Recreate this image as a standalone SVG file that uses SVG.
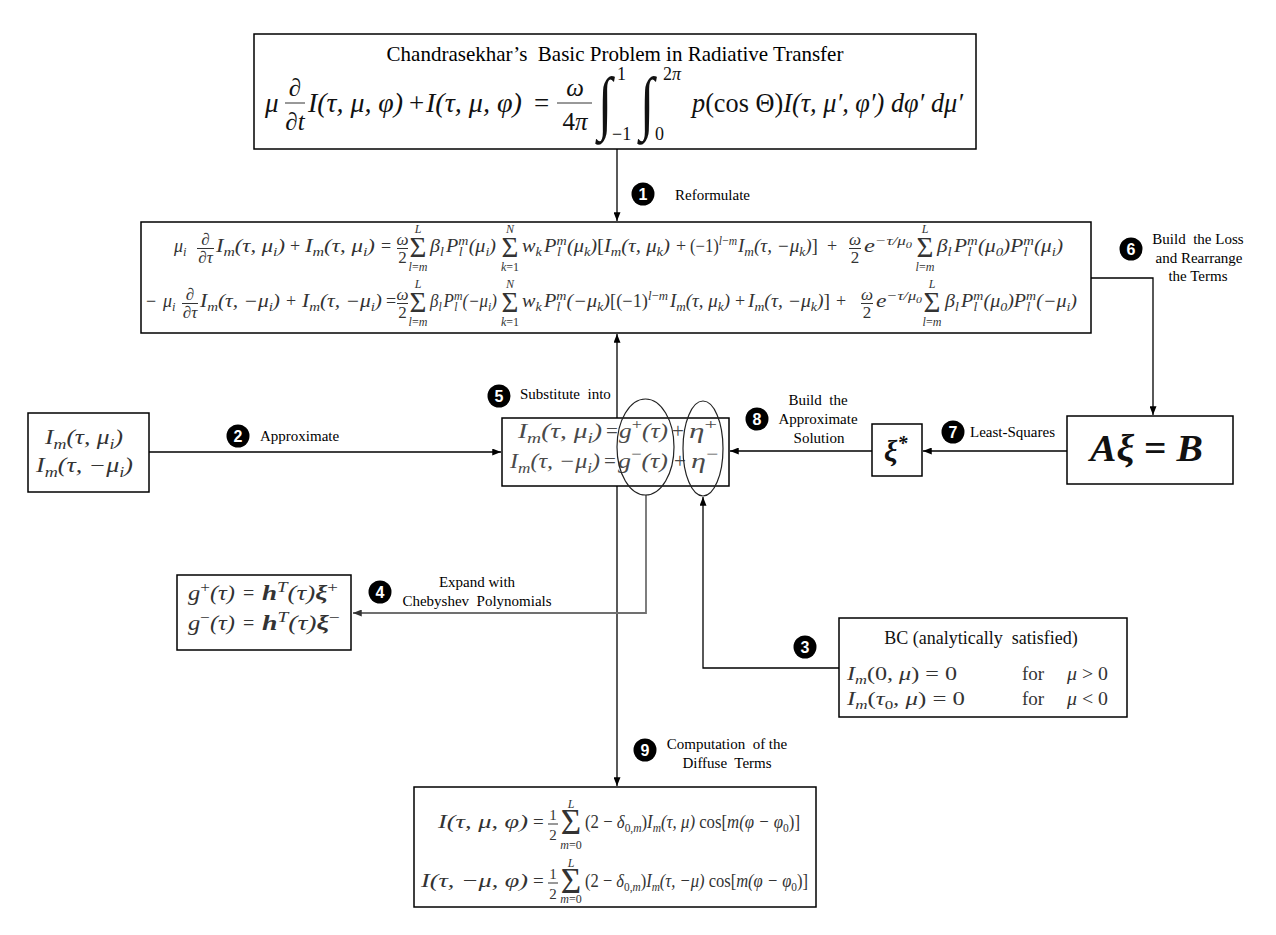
<svg xmlns="http://www.w3.org/2000/svg" width="1276" height="935" viewBox="0 0 1276 935">
<style>
.bx{fill:#fff;stroke:#000;stroke-width:1.5}
.m{font-family:"Liberation Serif","DejaVu Serif",serif;font-style:italic}
.u{font-style:normal}
.b{font-weight:bold}
.k1{fill:#111}
.k2{fill:#333}
.k3{fill:#4a4a4a}
.lb{font-family:"Liberation Serif","DejaVu Serif",serif;font-size:15px;fill:#000}
.ln{fill:none;stroke:#000;stroke-width:1.3}
.gl{fill:none;stroke:#707070;stroke-width:1.8}
.fr{stroke:#333;stroke-width:1}
.el{fill:none;stroke:#222;stroke-width:1.2}
.nc{fill:#000}
.nt{font-family:"Liberation Sans","DejaVu Sans",sans-serif;font-weight:bold;font-size:16px;fill:#fff;text-anchor:middle}
.c{text-anchor:middle}
</style>
<defs>
<marker id="ah" viewBox="0 0 10 8" refX="10" refY="4" markerWidth="9" markerHeight="7" markerUnits="userSpaceOnUse" orient="auto"><path d="M0,0L10,4L0,8z" fill="#000"/></marker>
<marker id="ahg" viewBox="0 0 10 8" refX="10" refY="4" markerWidth="9" markerHeight="7" markerUnits="userSpaceOnUse" orient="auto"><path d="M0,0L10,4L0,8z" fill="#333"/></marker>
</defs>
<rect width="1276" height="935" fill="#fff"/>

<g id="connectors">
<path class="ln" d="M617,149V221" marker-end="url(#ah)"/>
<path class="ln" d="M617,418V334" marker-end="url(#ah)"/>
<path class="ln" d="M617,486V786" marker-end="url(#ah)"/>
<path class="ln" d="M149,452H501" marker-end="url(#ah)"/>
<path class="ln" d="M872,451H730" marker-end="url(#ah)"/>
<path class="ln" d="M1067,451H923" marker-end="url(#ah)"/>
<path class="ln" d="M1091,278H1153V415" marker-end="url(#ah)"/>
<path class="gl" d="M646,495V613H353" marker-end="url(#ahg)"/>
<path class="ln" d="M839,668H703V497" marker-end="url(#ah)"/>
</g>

<g id="n-chandrasekhar">
<rect class="bx" x="254" y="34" width="722" height="115"/>
<text x="615" y="61" class="c" font-family="Liberation Serif, serif" font-size="21" fill="#000">Chandrasekhar’s&#160; Basic Problem in Radiative Transfer</text>
<g class="m k1">
<text x="265" y="112" font-size="27">μ</text>
<text class="c" x="295" y="96" font-size="25">∂</text>
<line class="fr" x1="285" y1="103" x2="305" y2="103"/>
<text class="c" x="295" y="130" font-size="25">∂t</text>
<text x="308" y="112" font-size="27" textLength="95" lengthAdjust="spacingAndGlyphs">I(τ, μ, φ)</text>
<text class="u" x="409" y="112" font-size="27">+</text>
<text x="426" y="112" font-size="27" textLength="96" lengthAdjust="spacingAndGlyphs">I(τ, μ, φ)</text>
<text class="u" x="534" y="112" font-size="27">=</text>
<text class="c" x="575" y="96" font-size="25">ω</text>
<line class="fr" x1="557" y1="103" x2="592" y2="103"/>
<text class="c" x="575" y="130" font-size="25"><tspan class="u">4</tspan>π</text>
<text class="u" x="0" y="0" font-size="52" transform="translate(598,126) scale(1,1.35)">∫</text>
<text class="u" x="617" y="80" font-size="18">1</text>
<text class="u" x="612" y="140" font-size="18">−1</text>
<text class="u" x="0" y="0" font-size="52" transform="translate(640,126) scale(1,1.35)">∫</text>
<text x="663" y="80" font-size="18"><tspan class="u">2</tspan>π</text>
<text class="u" x="655" y="140" font-size="18">0</text>
<text x="692" y="112" font-size="27" textLength="271" lengthAdjust="spacingAndGlyphs">p<tspan class="u">(cos Θ)</tspan>I(τ, μ′, φ′) dφ′ dμ′</text>
</g>
</g>

<g id="n-reformulated">
<rect class="bx" x="141" y="222" width="950" height="111"/>
<g class="m k2" font-size="18">
<text x="174" y="252">μ<tspan font-size="12.5" dy="4">i</tspan></text>
<text class="c" x="205.5" y="245" font-size="17">∂</text>
<line class="fr" x1="197" y1="248.5" x2="214" y2="248.5"/>
<text class="c" x="205.5" y="263" font-size="17">∂τ</text>
<text x="216" y="252" textLength="69" lengthAdjust="spacingAndGlyphs">I<tspan font-size="12.5" dy="4">m</tspan><tspan dy="-4">(τ, μ</tspan><tspan font-size="12.5" dy="4">i</tspan><tspan dy="-4">)</tspan></text>
<text class="u" x="290" y="252">+</text>
<text x="305" y="252" textLength="70" lengthAdjust="spacingAndGlyphs">I<tspan font-size="12.5" dy="4">m</tspan><tspan dy="-4">(τ, μ</tspan><tspan font-size="12.5" dy="4">i</tspan><tspan dy="-4">)</tspan></text>
<text class="u" x="381" y="252">=</text>
<text class="c" x="402.5" y="245" font-size="17">ω</text>
<line class="fr" x1="397" y1="248.5" x2="408" y2="248.5"/>
<text class="c u" x="402.5" y="263" font-size="17">2</text>
<text class="c u" x="418" y="257" font-size="29">Σ</text>
<text class="c" x="418" y="233" font-size="12">L</text>
<text class="c" x="418" y="271" font-size="12">l<tspan class="u">=</tspan>m</text>
<text x="430" y="252" textLength="66" lengthAdjust="spacingAndGlyphs">β<tspan font-size="12.5" dy="4">l</tspan><tspan dx="2" dy="-4">P</tspan><tspan font-size="12.5" dy="-7">m</tspan><tspan font-size="12.5" dx="-8.7" dy="11">l</tspan><tspan dx="5.4" dy="-4">(μ</tspan><tspan font-size="12.5" dy="4">i</tspan><tspan dy="-4">)</tspan></text>
<text class="c u" x="510" y="257" font-size="29">Σ</text>
<text class="c" x="510" y="233" font-size="12">N</text>
<text class="c" x="510" y="271" font-size="12">k<tspan class="u">=1</tspan></text>
<text x="522" y="252" textLength="75" lengthAdjust="spacingAndGlyphs">w<tspan font-size="12.5" dy="4">k</tspan><tspan dx="2" dy="-4">P</tspan><tspan font-size="12.5" dy="-7">m</tspan><tspan font-size="12.5" dx="-8.7" dy="11">l</tspan><tspan dx="5.4" dy="-4">(μ</tspan><tspan font-size="12.5" dy="4">k</tspan><tspan dy="-4">)</tspan></text>
<text x="597" y="252" textLength="73" lengthAdjust="spacingAndGlyphs"><tspan class="u">[</tspan>I<tspan font-size="12.5" dy="4">m</tspan><tspan dy="-4">(τ, μ</tspan><tspan font-size="12.5" dy="4">k</tspan><tspan dy="-4">)</tspan></text>
<text class="u" x="676" y="252">+</text>
<text x="690" y="252" textLength="47" lengthAdjust="spacingAndGlyphs"><tspan class="u">(−1)</tspan><tspan font-size="12.5" dy="-7">l<tspan class="u">−</tspan>m</tspan></text>
<text x="738" y="252" textLength="80" lengthAdjust="spacingAndGlyphs">I<tspan font-size="12.5" dy="4">m</tspan><tspan dy="-4">(τ, −μ</tspan><tspan font-size="12.5" dy="4">k</tspan><tspan dy="-4">)<tspan class="u">]</tspan></tspan></text>
<text class="u" x="827" y="252">+</text>
<text class="c" x="855" y="245" font-size="17">ω</text>
<line class="fr" x1="849" y1="248.5" x2="861" y2="248.5"/>
<text class="c u" x="855" y="263" font-size="17">2</text>
<text x="864" y="252" textLength="48" lengthAdjust="spacingAndGlyphs">e<tspan font-size="12.5" dy="-7">−τ/μ</tspan><tspan font-size="9" dy="2.5">0</tspan></text>
<text class="c u" x="925" y="257" font-size="29">Σ</text>
<text class="c" x="925" y="233" font-size="12">L</text>
<text class="c" x="925" y="271" font-size="12">l<tspan class="u">=</tspan>m</text>
<text x="937" y="252" textLength="126" lengthAdjust="spacingAndGlyphs">β<tspan font-size="12.5" dy="4">l</tspan><tspan dx="2" dy="-4">P</tspan><tspan font-size="12.5" dy="-7">m</tspan><tspan font-size="12.5" dx="-8.7" dy="11">l</tspan><tspan dx="5.4" dy="-4">(μ</tspan><tspan font-size="12.5" dy="4">0</tspan><tspan dy="-4">)P</tspan><tspan font-size="12.5" dy="-7">m</tspan><tspan font-size="12.5" dx="-8.7" dy="11">l</tspan><tspan dx="5.4" dy="-4">(μ</tspan><tspan font-size="12.5" dy="4">i</tspan><tspan dy="-4">)</tspan></text>

<text class="u" x="146" y="307">−</text>
<text x="163" y="307">μ<tspan font-size="12.5" dy="4">i</tspan></text>
<text class="c" x="190" y="300" font-size="17">∂</text>
<line class="fr" x1="182" y1="303.5" x2="198" y2="303.5"/>
<text class="c" x="190" y="318" font-size="17">∂τ</text>
<text x="200" y="307" textLength="80" lengthAdjust="spacingAndGlyphs">I<tspan font-size="12.5" dy="4">m</tspan><tspan dy="-4">(τ, −μ</tspan><tspan font-size="12.5" dy="4">i</tspan><tspan dy="-4">)</tspan></text>
<text class="u" x="286" y="307">+</text>
<text x="302" y="307" textLength="80" lengthAdjust="spacingAndGlyphs">I<tspan font-size="12.5" dy="4">m</tspan><tspan dy="-4">(τ, −μ</tspan><tspan font-size="12.5" dy="4">i</tspan><tspan dy="-4">)</tspan></text>
<text class="u" x="386" y="307">=</text>
<text class="c" x="402.5" y="300" font-size="17">ω</text>
<line class="fr" x1="397" y1="303.5" x2="408" y2="303.5"/>
<text class="c u" x="402.5" y="318" font-size="17">2</text>
<text class="c u" x="418" y="312" font-size="29">Σ</text>
<text class="c" x="418" y="288" font-size="12">L</text>
<text class="c" x="418" y="326" font-size="12">l<tspan class="u">=</tspan>m</text>
<text x="430" y="307" textLength="67" lengthAdjust="spacingAndGlyphs">β<tspan font-size="12.5" dy="4">l</tspan><tspan dx="2" dy="-4">P</tspan><tspan font-size="12.5" dy="-7">m</tspan><tspan font-size="12.5" dx="-8.7" dy="11">l</tspan><tspan dx="5.4" dy="-4">(−μ</tspan><tspan font-size="12.5" dy="4">i</tspan><tspan dy="-4">)</tspan></text>
<text class="c u" x="510" y="312" font-size="29">Σ</text>
<text class="c" x="510" y="288" font-size="12">N</text>
<text class="c" x="510" y="326" font-size="12">k<tspan class="u">=1</tspan></text>
<text x="522" y="307" textLength="88" lengthAdjust="spacingAndGlyphs">w<tspan font-size="12.5" dy="4">k</tspan><tspan dx="2" dy="-4">P</tspan><tspan font-size="12.5" dy="-7">m</tspan><tspan font-size="12.5" dx="-8.7" dy="11">l</tspan><tspan dx="5.4" dy="-4">(−μ</tspan><tspan font-size="12.5" dy="4">k</tspan><tspan dy="-4">)</tspan></text>
<text x="610" y="307" textLength="58" lengthAdjust="spacingAndGlyphs"><tspan class="u">[(−1)</tspan><tspan font-size="12.5" dy="-7">l<tspan class="u">−</tspan>m</tspan></text>
<text x="670" y="307" textLength="60" lengthAdjust="spacingAndGlyphs">I<tspan font-size="12.5" dy="4">m</tspan><tspan dy="-4">(τ, μ</tspan><tspan font-size="12.5" dy="4">k</tspan><tspan dy="-4">)</tspan></text>
<text class="u" x="735" y="307">+</text>
<text x="748" y="307" textLength="82" lengthAdjust="spacingAndGlyphs">I<tspan font-size="12.5" dy="4">m</tspan><tspan dy="-4">(τ, −μ</tspan><tspan font-size="12.5" dy="4">k</tspan><tspan dy="-4">)<tspan class="u">]</tspan></tspan></text>
<text class="u" x="836" y="307">+</text>
<text class="c" x="867" y="300" font-size="17">ω</text>
<line class="fr" x1="861" y1="303.5" x2="873" y2="303.5"/>
<text class="c u" x="867" y="318" font-size="17">2</text>
<text x="876" y="307" textLength="46" lengthAdjust="spacingAndGlyphs">e<tspan font-size="12.5" dy="-7">−τ/μ</tspan><tspan font-size="9" dy="2.5">0</tspan></text>
<text class="c u" x="932" y="312" font-size="29">Σ</text>
<text class="c" x="932" y="288" font-size="12">L</text>
<text class="c" x="932" y="326" font-size="12">l<tspan class="u">=</tspan>m</text>
<text x="945" y="307" textLength="132" lengthAdjust="spacingAndGlyphs">β<tspan font-size="12.5" dy="4">l</tspan><tspan dx="2" dy="-4">P</tspan><tspan font-size="12.5" dy="-7">m</tspan><tspan font-size="12.5" dx="-8.7" dy="11">l</tspan><tspan dx="5.4" dy="-4">(μ</tspan><tspan font-size="12.5" dy="4">0</tspan><tspan dy="-4">)P</tspan><tspan font-size="12.5" dy="-7">m</tspan><tspan font-size="12.5" dx="-8.7" dy="11">l</tspan><tspan dx="5.4" dy="-4">(−μ</tspan><tspan font-size="12.5" dy="4">i</tspan><tspan dy="-4">)</tspan></text>
</g>
</g>

<g id="n-intensity">
<rect class="bx" x="28" y="413" width="121" height="79"/>
<g class="m k2" font-size="20">
<text x="45" y="444" textLength="78" lengthAdjust="spacingAndGlyphs">I<tspan font-size="14" dy="5">m</tspan><tspan dy="-5">(τ, μ</tspan><tspan font-size="14" dy="5">i</tspan><tspan dy="-5">)</tspan></text>
<text x="36" y="472" textLength="97" lengthAdjust="spacingAndGlyphs">I<tspan font-size="14" dy="5">m</tspan><tspan dy="-5">(τ, −μ</tspan><tspan font-size="14" dy="5">i</tspan><tspan dy="-5">)</tspan></text>
</g>
</g>

<g id="n-approx">
<rect class="bx" x="502" y="418" width="227" height="68"/>
<g class="m k3" font-size="21">
<text x="518" y="438" textLength="84" lengthAdjust="spacingAndGlyphs">I<tspan font-size="15" dy="5">m</tspan><tspan dy="-5">(τ, μ</tspan><tspan font-size="15" dy="5">i</tspan><tspan dy="-5">)</tspan></text>
<text class="u" x="606" y="438">=</text>
<text x="619" y="438" textLength="49" lengthAdjust="spacingAndGlyphs">g<tspan class="u" font-size="15" dy="-9">+</tspan><tspan dy="9">(τ)</tspan></text>
<text class="u" x="672" y="438">+</text>
<text x="689" y="438" textLength="28" lengthAdjust="spacingAndGlyphs">η<tspan class="u" font-size="15" dy="-9">+</tspan></text>
<text x="510" y="468" textLength="90" lengthAdjust="spacingAndGlyphs">I<tspan font-size="15" dy="5">m</tspan><tspan dy="-5">(τ, −μ</tspan><tspan font-size="15" dy="5">i</tspan><tspan dy="-5">)</tspan></text>
<text class="u" x="604" y="468">=</text>
<text x="618" y="468" textLength="50" lengthAdjust="spacingAndGlyphs">g<tspan class="u" font-size="15" dy="-9">−</tspan><tspan dy="9">(τ)</tspan></text>
<text class="u" x="674" y="468">+</text>
<text x="691" y="468" textLength="27" lengthAdjust="spacingAndGlyphs">η<tspan class="u" font-size="15" dy="-9">−</tspan></text>
</g>
<ellipse class="el" cx="645.5" cy="447" rx="28.5" ry="48"/>
<ellipse class="el" cx="703" cy="448.5" rx="20" ry="47.5"/>
</g>

<g id="n-xistar">
<rect class="bx" x="872" y="424" width="50" height="52"/>
<text class="m b k1" x="884" y="461" font-size="30">ξ<tspan font-size="20" dy="-11">*</tspan></text>
</g>

<g id="n-linear">
<rect class="bx" x="1067" y="416" width="166" height="68"/>
<text class="m b k1" x="1090" y="461" font-size="38" textLength="113" lengthAdjust="spacingAndGlyphs">Aξ <tspan class="u">=</tspan> B</text>
</g>

<g id="n-chebyshev">
<rect class="bx" x="177" y="575" width="174" height="75"/>
<g class="m k2" font-size="20">
<text x="188" y="600" textLength="47" lengthAdjust="spacingAndGlyphs">g<tspan class="u" font-size="14" dy="-8">+</tspan><tspan dy="8">(τ)</tspan></text>
<text class="u" x="243" y="600">=</text>
<text x="262" y="600" textLength="76" lengthAdjust="spacingAndGlyphs"><tspan class="b">h</tspan><tspan font-size="14" dy="-8">T</tspan><tspan dy="8">(τ)</tspan><tspan class="b">ξ</tspan><tspan class="u" font-size="14" dy="-8">+</tspan></text>
<text x="188" y="630" textLength="47" lengthAdjust="spacingAndGlyphs">g<tspan class="u" font-size="14" dy="-8">−</tspan><tspan dy="8">(τ)</tspan></text>
<text class="u" x="243" y="630">=</text>
<text x="262" y="630" textLength="78" lengthAdjust="spacingAndGlyphs"><tspan class="b">h</tspan><tspan font-size="14" dy="-8">T</tspan><tspan dy="8">(τ)</tspan><tspan class="b">ξ</tspan><tspan class="u" font-size="14" dy="-8">−</tspan></text>
</g>
</g>

<g id="n-bc">
<rect class="bx" x="839" y="618" width="288" height="99"/>
<text class="c" x="981" y="644" font-family="Liberation Serif, serif" font-size="18" fill="#111">BC (analytically&#160; satisfied)</text>
<g class="m k2" font-size="19">
<text x="847" y="680" textLength="110" lengthAdjust="spacingAndGlyphs">I<tspan font-size="13" dy="4">m</tspan><tspan dy="-4" class="u">(0, </tspan>μ<tspan class="u">) = 0</tspan></text>
<text class="u" x="1022" y="680">for</text>
<text x="1067" y="680" textLength="41" lengthAdjust="spacingAndGlyphs">μ <tspan class="u">&gt; 0</tspan></text>
<text x="847" y="705" textLength="118" lengthAdjust="spacingAndGlyphs">I<tspan font-size="13" dy="4">m</tspan><tspan dy="-4" class="u">(</tspan>τ<tspan font-size="13" dy="4" class="u">0</tspan><tspan dy="-4">, μ</tspan><tspan class="u">) = 0</tspan></text>
<text class="u" x="1022" y="705">for</text>
<text x="1067" y="705" textLength="41" lengthAdjust="spacingAndGlyphs">μ <tspan class="u">&lt; 0</tspan></text>
</g>
</g>

<g id="n-diffuse">
<rect class="bx" x="414" y="787" width="402" height="120"/>
<g class="m k2" font-size="19">
<text x="438" y="828" textLength="90" lengthAdjust="spacingAndGlyphs">I(τ, μ, φ)</text>
<text class="u" x="533" y="828">=</text>
<text class="c u" x="553" y="820" font-size="15">1</text>
<line class="fr" x1="548" y1="824" x2="558" y2="824"/>
<text class="c u" x="553" y="840" font-size="15">2</text>
<text class="c u" x="571" y="834" font-size="35">Σ</text>
<text class="c" x="571" y="808" font-size="12">L</text>
<text class="c" x="571" y="849" font-size="12">m<tspan class="u">=0</tspan></text>
<text x="585" y="828" textLength="215" lengthAdjust="spacingAndGlyphs"><tspan class="u">(2 − </tspan>δ<tspan class="u" font-size="13" dy="4">0,</tspan><tspan font-size="13">m</tspan><tspan class="u" dy="-4">)</tspan>I<tspan font-size="13" dy="4">m</tspan><tspan dy="-4">(τ, μ) </tspan><tspan class="u">cos[</tspan>m(φ − φ<tspan class="u" font-size="13" dy="4">0</tspan><tspan class="u" dy="-4">)]</tspan></text>
<text x="421" y="887" textLength="107" lengthAdjust="spacingAndGlyphs">I(τ, −μ, φ)</text>
<text class="u" x="533" y="887">=</text>
<text class="c u" x="553" y="879" font-size="15">1</text>
<line class="fr" x1="548" y1="883" x2="558" y2="883"/>
<text class="c u" x="553" y="899" font-size="15">2</text>
<text class="c u" x="571" y="893" font-size="35">Σ</text>
<text class="c" x="571" y="867" font-size="12">L</text>
<text class="c" x="571" y="903" font-size="12">m<tspan class="u">=0</tspan></text>
<text x="585" y="887" textLength="223" lengthAdjust="spacingAndGlyphs"><tspan class="u">(2 − </tspan>δ<tspan class="u" font-size="13" dy="4">0,</tspan><tspan font-size="13">m</tspan><tspan class="u" dy="-4">)</tspan>I<tspan font-size="13" dy="4">m</tspan><tspan dy="-4">(τ, −μ) </tspan><tspan class="u">cos[</tspan>m(φ − φ<tspan class="u" font-size="13" dy="4">0</tspan><tspan class="u" dy="-4">)]</tspan></text>
</g>
</g>

<g id="labels">
<g id="step1"><circle class="nc" cx="643" cy="194" r="11.5"/><text class="nt" x="643" y="199.5">1</text><text class="lb" x="675" y="200">Reformulate</text></g>
<g id="step2"><circle class="nc" cx="238" cy="436" r="11.5"/><text class="nt" x="238" y="441.5">2</text><text class="lb" x="260" y="441">Approximate</text></g>
<g id="step3"><circle class="nc" cx="805" cy="647" r="11.5"/><text class="nt" x="805" y="652.5">3</text></g>
<g id="step4"><circle class="nc" cx="380" cy="592" r="11.5"/><text class="nt" x="380" y="597.5">4</text><text class="lb c" x="477" y="587">Expand with</text><text class="lb c" x="477" y="606">Chebyshev&#160; Polynomials</text></g>
<g id="step5"><circle class="nc" cx="499" cy="396" r="11.5"/><text class="nt" x="499" y="401.5">5</text><text class="lb" x="520" y="399">Substitute&#160; into</text></g>
<g id="step6"><circle class="nc" cx="1131" cy="249" r="11.5"/><text class="nt" x="1131" y="254.5">6</text><text class="lb c" x="1198" y="244">Build&#160; the Loss</text><text class="lb c" x="1199" y="263">and Rearrange</text><text class="lb c" x="1198" y="281">the Terms</text></g>
<g id="step7"><circle class="nc" cx="953" cy="432" r="11.5"/><text class="nt" x="953" y="437.5">7</text><text class="lb" x="970" y="437">Least-Squares</text></g>
<g id="step8"><circle class="nc" cx="757" cy="419" r="11.5"/><text class="nt" x="757" y="424.5">8</text><text class="lb c" x="818" y="405">Build&#160; the</text><text class="lb c" x="818" y="424">Approximate</text><text class="lb c" x="819" y="443">Solution</text></g>
<g id="step9"><circle class="nc" cx="645" cy="750" r="11.5"/><text class="nt" x="645" y="755.5">9</text><text class="lb c" x="727" y="749">Computation&#160; of the</text><text class="lb c" x="727" y="768">Diffuse&#160; Terms</text></g>
</g>
</svg>
